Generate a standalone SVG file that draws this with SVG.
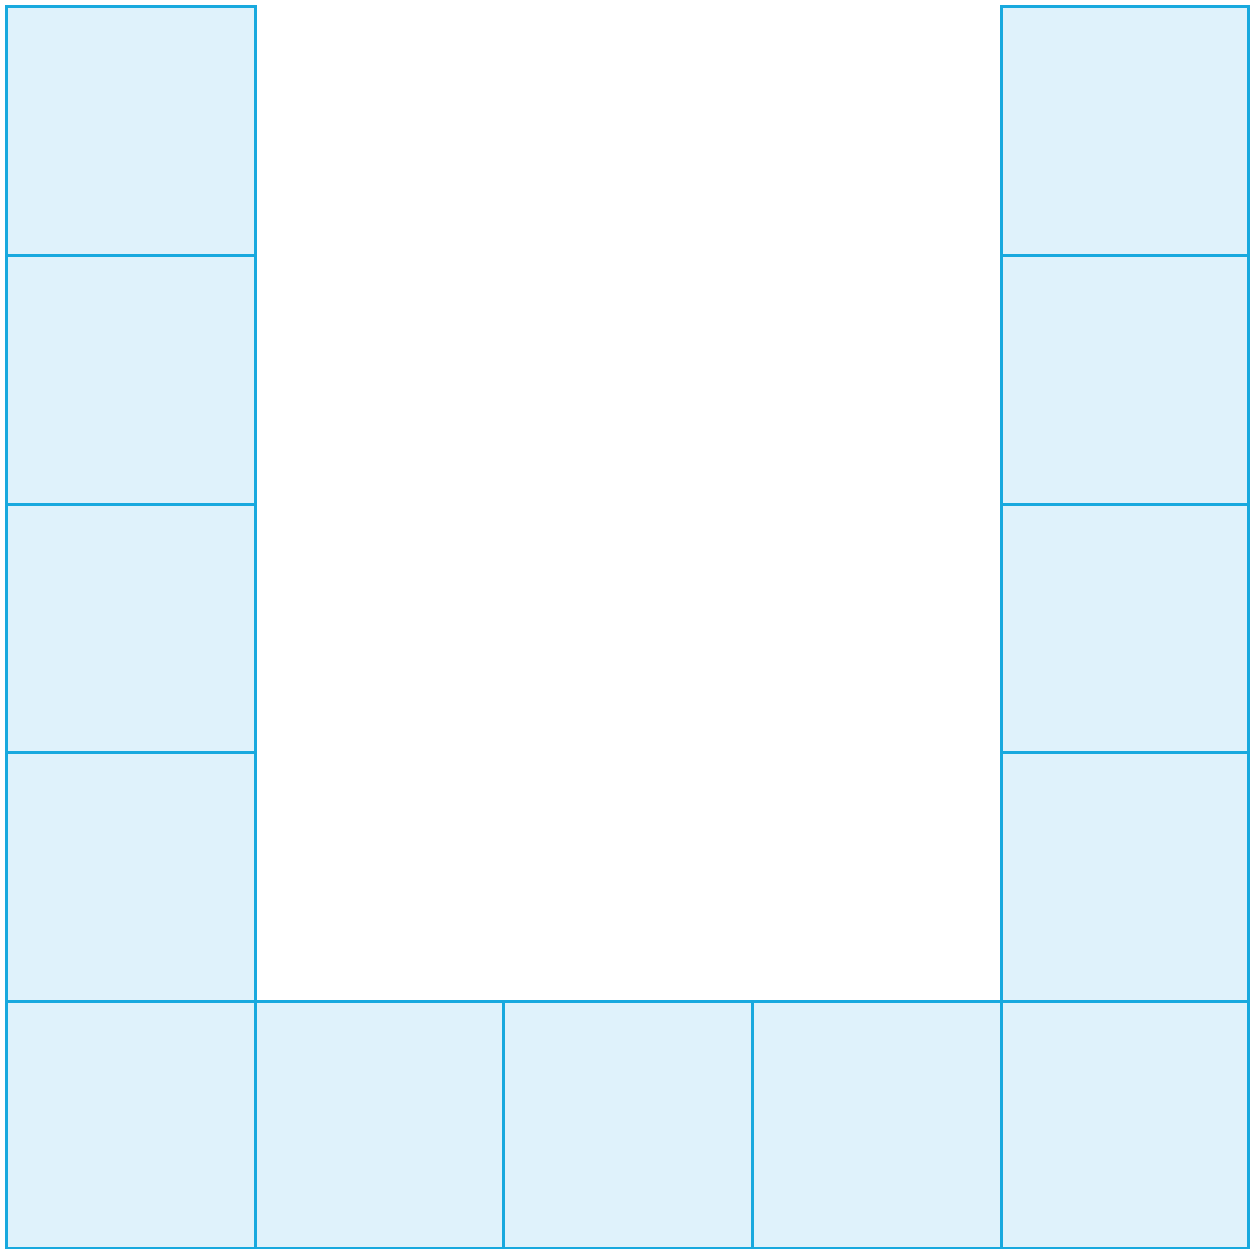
<svg xmlns="http://www.w3.org/2000/svg" width="1250" height="1249" viewBox="0 0 1250 1249">
<style>
.c{fill:#dff2fb;stroke:#18a9de;stroke-width:3}
</style>
<rect width="1250" height="1249" fill="#ffffff"/>
<g id="left-column">
<rect id="L1" class="c" x="6.5" y="6.5" width="249" height="249"/>
<rect id="L2" class="c" x="6.5" y="255.5" width="249" height="249"/>
<rect id="L3" class="c" x="6.5" y="504.5" width="249" height="248"/>
<rect id="L4" class="c" x="6.5" y="752.5" width="249" height="249"/>
</g>
<g id="right-column">
<rect id="R1" class="c" x="1001.5" y="6.5" width="247" height="249"/>
<rect id="R2" class="c" x="1001.5" y="255.5" width="247" height="249"/>
<rect id="R3" class="c" x="1001.5" y="504.5" width="247" height="248"/>
<rect id="R4" class="c" x="1001.5" y="752.5" width="247" height="249"/>
</g>
<g id="bottom-row">
<rect id="B1" class="c" x="6.5" y="1001.5" width="249" height="247"/>
<rect id="B2" class="c" x="255.5" y="1001.5" width="248" height="247"/>
<rect id="B3" class="c" x="503.5" y="1001.5" width="249" height="247"/>
<rect id="B4" class="c" x="752.5" y="1001.5" width="249" height="247"/>
<rect id="B5" class="c" x="1001.5" y="1001.5" width="247" height="247"/>
</g>
<g id="connectors"/>
</svg>
